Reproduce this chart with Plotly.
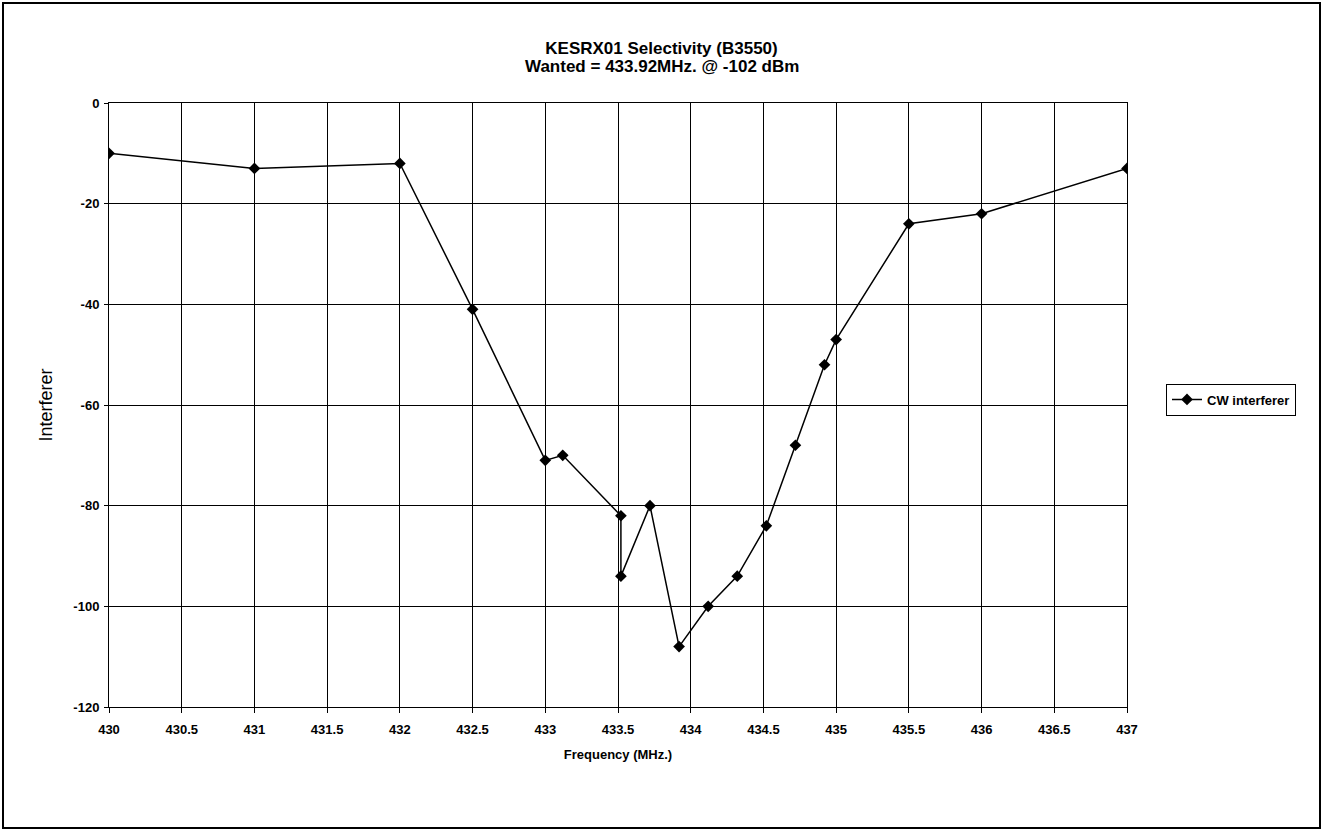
import plotly.graph_objects as go

freq_mhz = [430, 431, 432, 432.5, 433, 433.12, 433.52, 433.52, 433.72, 433.92,
            434.12, 434.32, 434.52, 434.72, 434.92, 435, 435.5, 436, 437]
interferer_dbm = [-10, -13, -12, -41, -71, -70, -82, -94, -80, -108,
                  -100, -94, -84, -68, -52, -47, -24, -22, -13]
x_ticks = [430, 430.5, 431, 431.5, 432, 432.5, 433, 433.5, 434, 434.5,
           435, 435.5, 436, 436.5, 437]
y_ticks = [0, -20, -40, -60, -80, -100, -120]
title_line1 = "KESRX01 Selectivity (B3550)"
title_line2 = "Wanted = 433.92MHz. @ -102 dBm"

FONT = "Liberation Sans, Arial, sans-serif"

fig = go.Figure()
fig.add_trace(go.Scatter(
    x=freq_mhz, y=interferer_dbm, mode="lines+markers", name="<b>CW interferer</b>",
    line=dict(color="black", width=1.5),
    marker=dict(symbol="diamond", size=9, color="black"),
))

W, H = 1323, 831
L, R, T, B = 109, 1127, 103, 707

fig.update_layout(
    width=W, height=H,
    margin=dict(l=L, r=W - R, t=T, b=H - B),
    paper_bgcolor="white", plot_bgcolor="white",
    font=dict(family=FONT, color="black"),
    title=dict(
        text="<b>" + title_line1 + "</b>",
        x=0.5, xref="container", xanchor="center",
        y=1 - 48 / H, yref="container", yanchor="middle",
        font=dict(size=17, family=FONT, color="black"),
    ),
    annotations=[dict(
        text="<b>" + title_line2 + "</b>", showarrow=False,
        xref="paper", yref="paper", x=(662 - L) / (R - L), y=(B - 67) / (B - T),
        xanchor="center", yanchor="middle",
        font=dict(size=17, family=FONT, color="black"),
    )],
    showlegend=True,
    legend=dict(
        x=(1166 - L) / (R - L), y=(B - 399.5) / (B - T), xanchor="left", yanchor="middle",
        bordercolor="black", borderwidth=1, bgcolor="white",
        font=dict(size=13, family=FONT, color="black"),
        itemwidth=30, tracegroupgap=0,
    ),
    xaxis=dict(
        range=[430, 437], tickvals=x_ticks, ticktext=[f"<b>{v:g}</b>" for v in x_ticks],
        showgrid=True, gridcolor="#000000", gridwidth=1,
        showline=True, linecolor="black", linewidth=1, mirror=True,
        ticks="outside", ticklen=5, tickcolor="black",
        tickfont=dict(size=13, family=FONT), ticklabelstandoff=5,
        zeroline=False,
        title=dict(text="<b>Frequency (MHz.)</b>", font=dict(size=13, family=FONT), standoff=14),
    ),
    yaxis=dict(
        range=[-120, 0], tickvals=y_ticks, ticktext=[f"<b>{v}</b>" for v in y_ticks],
        showgrid=True, gridcolor="#000000", gridwidth=1,
        showline=True, linecolor="black", linewidth=1, mirror=True,
        ticks="outside", ticklen=4, tickcolor="black",
        tickfont=dict(size=13, family=FONT),
        zeroline=False, ticklabelstandoff=2,
        title=dict(text="Interferer", font=dict(size=18, family=FONT), standoff=16),
    ),
    shapes=[dict(
        type="rect", xref="paper", yref="paper",
        x0=(3 - L) / (R - L), x1=(1320 - L) / (R - L),
        y0=(B - 828) / (B - T), y1=(B - 3) / (B - T),
        line=dict(color="black", width=2), fillcolor="rgba(0,0,0,0)", layer="below",
    )],
)

fig.write_html("out.html", config={"displayModeBar": False},
               post_script="document.body.style.margin='0';document.body.style.overflow='hidden';")
